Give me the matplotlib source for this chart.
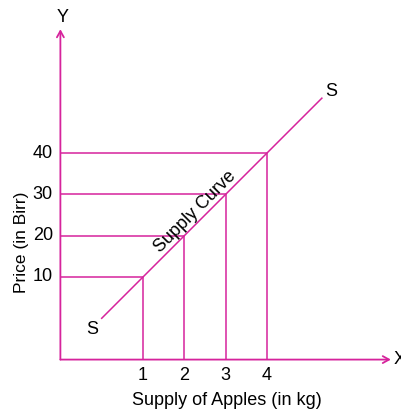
import matplotlib
matplotlib.use("Agg")
import matplotlib.pyplot as plt

plt.rcParams["font.family"] = ["Liberation Sans", "DejaVu Sans"]

MAG = "#d6239c"
FS = 13

# supply schedule
qty = [1, 2, 3, 4]
price = [10, 20, 30, 40]
# ends of the drawn supply line
curve_qty = [0.0, 5.33]
curve_price = [0.0, 53.3]

fig = plt.figure(figsize=(4.02, 4.11), dpi=100)
ax = fig.add_axes([0, 0, 1, 1])
ax.set_xlim(-2.462, 7.27)
ax.set_ylim(-22.45, 77.07)
ax.axis("off")

x0, y0 = -1, -10   # where the two axes cross
arrow = dict(arrowstyle="->,head_length=0.45,head_width=0.25", color=MAG,
             lw=1.3, shrinkA=0, shrinkB=0)
ax.annotate("", xy=(7.0, y0), xytext=(x0, y0), arrowprops=arrow)
ax.annotate("", xy=(x0, 70), xytext=(x0, y0), arrowprops=arrow)
ax.text(x0 + 0.05, 72.8, "Y", ha="center", va="center", fontsize=FS)
ax.text(7.07, y0, "X", ha="left", va="center", fontsize=FS)

# guide lines to each point on the curve
ax.hlines(price, x0, qty, color=MAG, lw=1.1)
ax.vlines(qty, y0, price, color=MAG, lw=1.1)
ax.plot(curve_qty, curve_price, color=MAG, lw=1.1)

for q in qty:
    ax.text(q, -13.8, str(q), ha="center", va="center", fontsize=FS)
for p in price:
    ax.text(-1.18, p, str(p), ha="right", va="center", fontsize=FS)

ax.text(-0.23, -2.8, "S", ha="center", va="center", fontsize=FS)
ax.text(5.56, 55.0, "S", ha="center", va="center", fontsize=FS)
ax.text(2.27, 25.9, "Supply Curve", rotation=45, rotation_mode="anchor",
        ha="center", va="center", fontsize=FS)

ax.text(3.02, -20.0, "Supply of Apples (in kg)", ha="center", va="center",
        fontsize=FS)
ax.text(-1.95, 18.5, "Price (in Birr)", rotation=90, ha="center", va="center",
        fontsize=12.5)

fig.savefig("out.png", dpi=100)
